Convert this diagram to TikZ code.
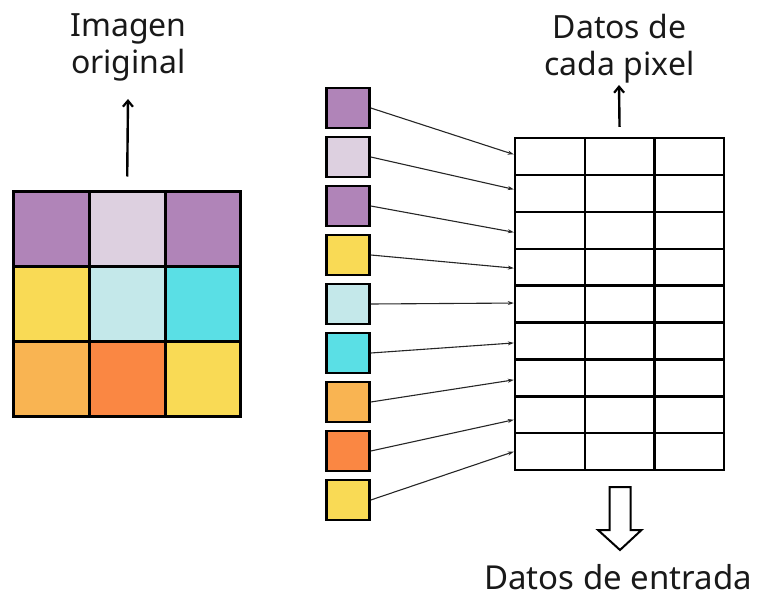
\documentclass[tikz,border=0pt]{standalone}
\usepackage{fontspec}
\setmainfont{Noto Sans}
\usetikzlibrary{arrows.meta,calc}

\definecolor{cPurple}{HTML}{B084B8}
\definecolor{cLavender}{HTML}{DDD0E0}
\definecolor{cYellow}{HTML}{F9DA55}
\definecolor{cPaleCyan}{HTML}{C4E8EA}
\definecolor{cCyan}{HTML}{5ADFE5}
\definecolor{cLightOrange}{HTML}{F9B452}
\definecolor{cOrange}{HTML}{FA8743}

\tikzset{
  label text/.style={font=\fontsize{32}{37}\selectfont, align=center, inner sep=0pt, text=black!90},
  pixcell/.style={draw=black, line width=3pt, minimum width=75.8pt, minimum height=75.3pt, inner sep=0pt},
  pixsq/.style={draw=black, line width=2.6pt, minimum width=43pt, minimum height=40pt, inner sep=0pt},
  tabcell/.style={draw=black, line width=2.4pt, minimum width=69.7pt, minimum height=36.9pt, inner sep=0pt},
  uparrow/.style={line width=2.4pt, -{Straight Barb[length=6pt,width=10pt,line width=2.2pt]}},
  feed/.style={line width=1.1pt, black!85, -{Stealth[length=6pt,width=4pt]}},
  hollow/.style={draw=black, line width=2pt, fill=white, line join=miter}
}

\begin{document}
\begin{tikzpicture}[x=1pt, y=-1pt]
  \useasboundingbox (0,0) rectangle (758,594);

  % original 3x3 image
  \foreach \r/\c/\col in {1/1/cPurple, 1/2/cLavender, 1/3/cPurple,
                          2/1/cYellow, 2/2/cPaleCyan, 2/3/cCyan,
                          3/1/cLightOrange, 3/2/cOrange, 3/3/cYellow}
    \node[pixcell, fill=\col] (img-\r-\c) at ({13.5+75.8*(\c-0.5)}, {191+75.3*(\r-0.5)}) {};

  \node[label text, anchor=north] (imgtitle) at (128.5,13) {Imagen\\original};
  \coordinate (imgtip) at (128,99);
  \draw[uparrow] ($(img-1-2.north)+(0,-13)$) -- (imgtip);

  % one square per pixel
  \foreach \i/\col in {1/cPurple, 2/cLavender, 3/cPurple, 4/cYellow, 5/cPaleCyan,
                       6/cCyan, 7/cLightOrange, 8/cOrange, 9/cYellow}
    \node[pixsq, fill=\col] (px-\i) at (348, {108+49*(\i-1)}) {};

  % data table: 9 rows x 3 columns
  \foreach \r in {1,...,9}
    \foreach \c in {1,2,3}
      \node[tabcell] (tab-\r-\c) at ({515+69.7*(\c-0.5)}, {138+36.9*(\r-0.5)}) {};

  % each pixel feeds one row of the table
  \foreach \i/\dy in {1/-2, 2/-4, 3/2, 4/1, 5/-1, 6/2, 7/2, 8/5, 9/0}
    \draw[feed] (px-\i.east) -- ($(tab-\i-1.west)+(0,\dy)$);

  \node[label text, anchor=north] (pixtitle) at (619.5,14) {Datos de\\cada pixel};
  \coordinate (pixtip) at (619,85);
  \draw[uparrow] ($(tab-1-2.north)+(0,-10)$) -- (pixtip);

  % hollow arrow down to the input data
  \coordinate (hb) at (620,487);
  \draw[hollow] ($(hb)+(-10.5,0)$) -- ++(21,0) -- ++(0,43) -- ++(11,0)
    -- ($(hb)+(0,63)$) -- ($(hb)+(-22,43)$) -- ++(11.5,0) -- cycle;

  \node[label text, font=\fontsize{33}{37}\selectfont, anchor=base] (inputs) at (618,589) {Datos de entrada};
\end{tikzpicture}
\end{document}
